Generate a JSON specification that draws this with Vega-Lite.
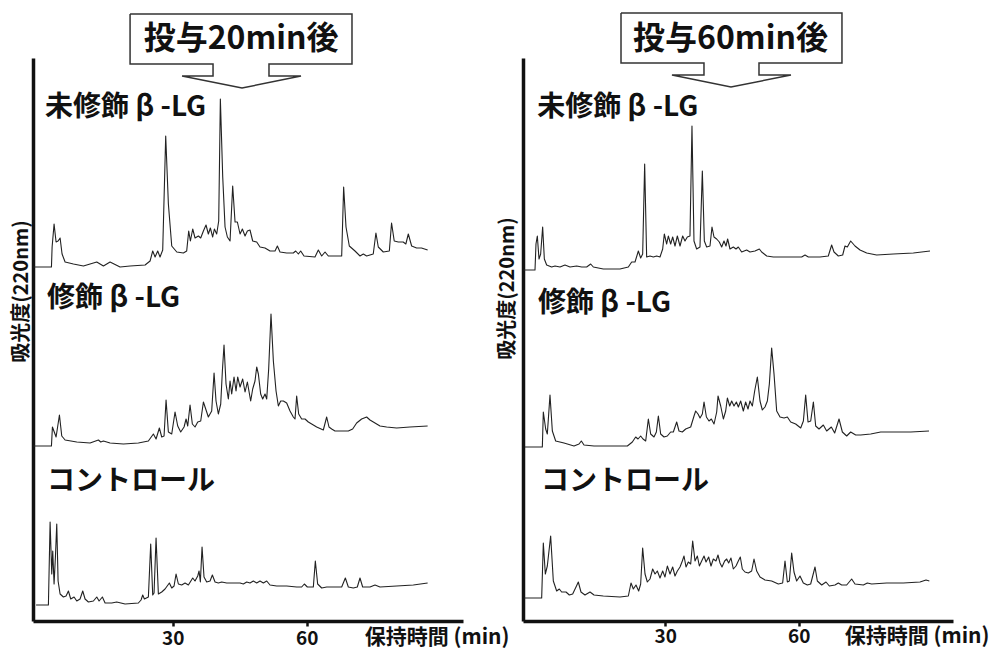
{
  "$schema": "https://vega.github.io/schema/vega-lite/v6.json",
  "background": "white",
  "padding": {"left": 11, "top": 10, "right": 0, "bottom": 0},
  "bounds": "flush",
  "spacing": 60,
  "config": {"view": {"stroke": null}, "font": "Noto Sans CJK JP"},
  "datasets": {
    "trace20": [
      {"sample":"unmod","t":-1.2,"y":354},{"sample":"unmod","t":2.83,"y":354},{"sample":"unmod","t":2.98,"y":374},{"sample":"unmod","t":3.42,"y":397},{"sample":"unmod","t":3.87,"y":379},{"sample":"unmod","t":4.32,"y":380},{"sample":"unmod","t":4.77,"y":383},{"sample":"unmod","t":5.21,"y":367},{"sample":"unmod","t":5.89,"y":359},{"sample":"unmod","t":7.75,"y":357},{"sample":"unmod","t":9.99,"y":355},{"sample":"unmod","t":11.48,"y":357},{"sample":"unmod","t":12.98,"y":359},{"sample":"unmod","t":14.47,"y":355},{"sample":"unmod","t":15.96,"y":359},{"sample":"unmod","t":18.2,"y":354},{"sample":"unmod","t":20.44,"y":355},{"sample":"unmod","t":23.8,"y":356},{"sample":"unmod","t":24.92,"y":360},{"sample":"unmod","t":25.51,"y":370},{"sample":"unmod","t":26.04,"y":364},{"sample":"unmod","t":26.63,"y":370},{"sample":"unmod","t":27.15,"y":364},{"sample":"unmod","t":27.75,"y":371},{"sample":"unmod","t":28.42,"y":485},{"sample":"unmod","t":29.02,"y":417},{"sample":"unmod","t":29.77,"y":375},{"sample":"unmod","t":30.9,"y":369},{"sample":"unmod","t":32.38,"y":368},{"sample":"unmod","t":33.12,"y":370},{"sample":"unmod","t":33.57,"y":390},{"sample":"unmod","t":33.95,"y":380},{"sample":"unmod","t":34.47,"y":392},{"sample":"unmod","t":34.99,"y":383},{"sample":"unmod","t":35.74,"y":385},{"sample":"unmod","t":36.26,"y":383},{"sample":"unmod","t":36.86,"y":390},{"sample":"unmod","t":37.45,"y":396},{"sample":"unmod","t":37.97,"y":387},{"sample":"unmod","t":38.42,"y":393},{"sample":"unmod","t":38.94,"y":384},{"sample":"unmod","t":39.32,"y":392},{"sample":"unmod","t":39.84,"y":387},{"sample":"unmod","t":40.29,"y":400},{"sample":"unmod","t":40.66,"y":522},{"sample":"unmod","t":41.19,"y":444},{"sample":"unmod","t":41.71,"y":394},{"sample":"unmod","t":42.23,"y":384},{"sample":"unmod","t":42.83,"y":380},{"sample":"unmod","t":43.42,"y":435},{"sample":"unmod","t":43.95,"y":399},{"sample":"unmod","t":44.47,"y":399},{"sample":"unmod","t":45.07,"y":387},{"sample":"unmod","t":45.59,"y":392},{"sample":"unmod","t":46.19,"y":385},{"sample":"unmod","t":46.71,"y":390},{"sample":"unmod","t":47.3,"y":391},{"sample":"unmod","t":47.9,"y":380},{"sample":"unmod","t":48.8,"y":379},{"sample":"unmod","t":49.54,"y":374},{"sample":"unmod","t":50.66,"y":373},{"sample":"unmod","t":51.78,"y":370},{"sample":"unmod","t":52.9,"y":370},{"sample":"unmod","t":53.43,"y":375},{"sample":"unmod","t":54.02,"y":369},{"sample":"unmod","t":55.51,"y":368},{"sample":"unmod","t":57.0,"y":368},{"sample":"unmod","t":57.53,"y":370},{"sample":"unmod","t":58.13,"y":367},{"sample":"unmod","t":58.65,"y":370},{"sample":"unmod","t":59.39,"y":365},{"sample":"unmod","t":61.85,"y":364},{"sample":"unmod","t":62.6,"y":371},{"sample":"unmod","t":63.35,"y":365},{"sample":"unmod","t":64.1,"y":369},{"sample":"unmod","t":64.84,"y":365},{"sample":"unmod","t":67.83,"y":365},{"sample":"unmod","t":68.27,"y":434},{"sample":"unmod","t":68.8,"y":394},{"sample":"unmod","t":69.54,"y":375},{"sample":"unmod","t":70.81,"y":370},{"sample":"unmod","t":71.93,"y":365},{"sample":"unmod","t":72.68,"y":367},{"sample":"unmod","t":73.42,"y":365},{"sample":"unmod","t":74.9,"y":367},{"sample":"unmod","t":75.5,"y":388},{"sample":"unmod","t":76.03,"y":374},{"sample":"unmod","t":77.15,"y":369},{"sample":"unmod","t":78.5,"y":370},{"sample":"unmod","t":79.0,"y":398},{"sample":"unmod","t":79.6,"y":380},{"sample":"unmod","t":80.5,"y":379},{"sample":"unmod","t":81.6,"y":379},{"sample":"unmod","t":82.2,"y":377},{"sample":"unmod","t":82.75,"y":387},{"sample":"unmod","t":83.5,"y":375},{"sample":"unmod","t":84.6,"y":373},{"sample":"unmod","t":85.7,"y":373},{"sample":"unmod","t":87.08,"y":371},
      {"sample":"mod","t":-1.2,"y":175},{"sample":"mod","t":2.83,"y":175},{"sample":"mod","t":3.05,"y":194},{"sample":"mod","t":3.87,"y":184},{"sample":"mod","t":4.62,"y":206},{"sample":"mod","t":5.14,"y":185},{"sample":"mod","t":5.89,"y":181},{"sample":"mod","t":8.5,"y":179},{"sample":"mod","t":11.48,"y":178},{"sample":"mod","t":13.35,"y":181},{"sample":"mod","t":13.87,"y":179},{"sample":"mod","t":14.47,"y":180},{"sample":"mod","t":15.96,"y":178},{"sample":"mod","t":18.95,"y":177},{"sample":"mod","t":22.3,"y":178},{"sample":"mod","t":24.54,"y":180},{"sample":"mod","t":25.66,"y":187},{"sample":"mod","t":26.26,"y":182},{"sample":"mod","t":27.0,"y":193},{"sample":"mod","t":27.53,"y":184},{"sample":"mod","t":28.05,"y":185},{"sample":"mod","t":28.5,"y":221},{"sample":"mod","t":29.02,"y":189},{"sample":"mod","t":29.77,"y":187},{"sample":"mod","t":30.51,"y":209},{"sample":"mod","t":31.11,"y":195},{"sample":"mod","t":31.78,"y":189},{"sample":"mod","t":32.53,"y":194},{"sample":"mod","t":32.98,"y":202},{"sample":"mod","t":33.35,"y":195},{"sample":"mod","t":33.87,"y":216},{"sample":"mod","t":34.39,"y":197},{"sample":"mod","t":34.99,"y":194},{"sample":"mod","t":35.59,"y":199},{"sample":"mod","t":36.26,"y":200},{"sample":"mod","t":36.86,"y":219},{"sample":"mod","t":37.38,"y":212},{"sample":"mod","t":37.97,"y":204},{"sample":"mod","t":38.72,"y":210},{"sample":"mod","t":39.25,"y":248},{"sample":"mod","t":39.69,"y":220},{"sample":"mod","t":40.21,"y":207},{"sample":"mod","t":40.74,"y":217},{"sample":"mod","t":41.11,"y":250},{"sample":"mod","t":41.48,"y":276},{"sample":"mod","t":41.93,"y":237},{"sample":"mod","t":42.45,"y":222},{"sample":"mod","t":42.83,"y":240},{"sample":"mod","t":43.2,"y":227},{"sample":"mod","t":43.72,"y":244},{"sample":"mod","t":44.17,"y":230},{"sample":"mod","t":44.54,"y":244},{"sample":"mod","t":45.07,"y":234},{"sample":"mod","t":45.66,"y":242},{"sample":"mod","t":46.19,"y":229},{"sample":"mod","t":46.71,"y":239},{"sample":"mod","t":47.45,"y":220},{"sample":"mod","t":47.9,"y":232},{"sample":"mod","t":48.42,"y":240},{"sample":"mod","t":48.8,"y":254},{"sample":"mod","t":49.17,"y":247},{"sample":"mod","t":49.69,"y":227},{"sample":"mod","t":50.14,"y":222},{"sample":"mod","t":50.66,"y":227},{"sample":"mod","t":51.04,"y":222},{"sample":"mod","t":51.48,"y":252},{"sample":"mod","t":52.0,"y":307},{"sample":"mod","t":52.53,"y":260},{"sample":"mod","t":53.13,"y":230},{"sample":"mod","t":53.65,"y":215},{"sample":"mod","t":54.17,"y":220},{"sample":"mod","t":54.77,"y":220},{"sample":"mod","t":55.51,"y":218},{"sample":"mod","t":56.26,"y":210},{"sample":"mod","t":57.0,"y":204},{"sample":"mod","t":57.38,"y":202},{"sample":"mod","t":57.75,"y":225},{"sample":"mod","t":58.2,"y":207},{"sample":"mod","t":58.87,"y":202},{"sample":"mod","t":59.62,"y":202},{"sample":"mod","t":60.36,"y":199},{"sample":"mod","t":61.11,"y":197},{"sample":"mod","t":62.23,"y":194},{"sample":"mod","t":63.72,"y":191},{"sample":"mod","t":64.47,"y":204},{"sample":"mod","t":64.99,"y":194},{"sample":"mod","t":65.59,"y":192},{"sample":"mod","t":66.33,"y":190},{"sample":"mod","t":67.45,"y":190},{"sample":"mod","t":69.32,"y":190},{"sample":"mod","t":70.29,"y":192},{"sample":"mod","t":71.18,"y":198},{"sample":"mod","t":72.3,"y":202},{"sample":"mod","t":73.42,"y":204},{"sample":"mod","t":74.17,"y":201},{"sample":"mod","t":75.29,"y":198},{"sample":"mod","t":76.41,"y":195},{"sample":"mod","t":77.9,"y":194},{"sample":"mod","t":80.14,"y":193},{"sample":"mod","t":83.12,"y":194},{"sample":"mod","t":87.08,"y":195},
      {"sample":"ctrl","t":-0.61,"y":16},{"sample":"ctrl","t":2.15,"y":16},{"sample":"ctrl","t":2.53,"y":99},{"sample":"ctrl","t":2.9,"y":47},{"sample":"ctrl","t":3.12,"y":70},{"sample":"ctrl","t":3.42,"y":37},{"sample":"ctrl","t":3.72,"y":64},{"sample":"ctrl","t":4.02,"y":97},{"sample":"ctrl","t":4.32,"y":40},{"sample":"ctrl","t":4.77,"y":27},{"sample":"ctrl","t":5.51,"y":24},{"sample":"ctrl","t":6.11,"y":25},{"sample":"ctrl","t":6.63,"y":30},{"sample":"ctrl","t":7.15,"y":22},{"sample":"ctrl","t":7.9,"y":24},{"sample":"ctrl","t":8.5,"y":20},{"sample":"ctrl","t":9.24,"y":22},{"sample":"ctrl","t":9.84,"y":30},{"sample":"ctrl","t":10.36,"y":22},{"sample":"ctrl","t":11.11,"y":19},{"sample":"ctrl","t":12.23,"y":20},{"sample":"ctrl","t":12.98,"y":24},{"sample":"ctrl","t":13.5,"y":20},{"sample":"ctrl","t":14.24,"y":24},{"sample":"ctrl","t":14.84,"y":18},{"sample":"ctrl","t":16.33,"y":18},{"sample":"ctrl","t":17.45,"y":19},{"sample":"ctrl","t":19.32,"y":17},{"sample":"ctrl","t":22.3,"y":18},{"sample":"ctrl","t":22.9,"y":21},{"sample":"ctrl","t":23.27,"y":26},{"sample":"ctrl","t":23.65,"y":22},{"sample":"ctrl","t":24.54,"y":24},{"sample":"ctrl","t":25.06,"y":77},{"sample":"ctrl","t":25.51,"y":26},{"sample":"ctrl","t":25.81,"y":28},{"sample":"ctrl","t":26.26,"y":83},{"sample":"ctrl","t":26.78,"y":27},{"sample":"ctrl","t":27.53,"y":29},{"sample":"ctrl","t":28.27,"y":32},{"sample":"ctrl","t":29.24,"y":38},{"sample":"ctrl","t":29.77,"y":33},{"sample":"ctrl","t":30.29,"y":35},{"sample":"ctrl","t":30.74,"y":47},{"sample":"ctrl","t":31.26,"y":37},{"sample":"ctrl","t":32.0,"y":36},{"sample":"ctrl","t":32.75,"y":38},{"sample":"ctrl","t":33.5,"y":36},{"sample":"ctrl","t":34.47,"y":43},{"sample":"ctrl","t":34.99,"y":40},{"sample":"ctrl","t":35.59,"y":45},{"sample":"ctrl","t":35.89,"y":50},{"sample":"ctrl","t":36.18,"y":39},{"sample":"ctrl","t":36.56,"y":74},{"sample":"ctrl","t":37.0,"y":44},{"sample":"ctrl","t":37.6,"y":39},{"sample":"ctrl","t":38.35,"y":40},{"sample":"ctrl","t":38.87,"y":46},{"sample":"ctrl","t":39.47,"y":39},{"sample":"ctrl","t":40.21,"y":38},{"sample":"ctrl","t":40.96,"y":39},{"sample":"ctrl","t":42.08,"y":38},{"sample":"ctrl","t":43.57,"y":38},{"sample":"ctrl","t":45.07,"y":38},{"sample":"ctrl","t":45.81,"y":37},{"sample":"ctrl","t":46.56,"y":39},{"sample":"ctrl","t":47.3,"y":38},{"sample":"ctrl","t":48.05,"y":40},{"sample":"ctrl","t":48.8,"y":38},{"sample":"ctrl","t":49.54,"y":40},{"sample":"ctrl","t":50.29,"y":38},{"sample":"ctrl","t":51.04,"y":40},{"sample":"ctrl","t":51.78,"y":36},{"sample":"ctrl","t":53.27,"y":35},{"sample":"ctrl","t":55.51,"y":35},{"sample":"ctrl","t":57.75,"y":34},{"sample":"ctrl","t":58.87,"y":34},{"sample":"ctrl","t":59.47,"y":37},{"sample":"ctrl","t":60.14,"y":34},{"sample":"ctrl","t":61.48,"y":34},{"sample":"ctrl","t":61.93,"y":60},{"sample":"ctrl","t":62.45,"y":37},{"sample":"ctrl","t":63.35,"y":33},{"sample":"ctrl","t":64.47,"y":34},{"sample":"ctrl","t":67.83,"y":34},{"sample":"ctrl","t":68.65,"y":43},{"sample":"ctrl","t":69.32,"y":34},{"sample":"ctrl","t":70.44,"y":33},{"sample":"ctrl","t":71.33,"y":34},{"sample":"ctrl","t":71.93,"y":43},{"sample":"ctrl","t":72.53,"y":34},{"sample":"ctrl","t":74.17,"y":34},{"sample":"ctrl","t":75.29,"y":36},{"sample":"ctrl","t":76.41,"y":34},{"sample":"ctrl","t":80.14,"y":35},{"sample":"ctrl","t":83.87,"y":36},{"sample":"ctrl","t":87.08,"y":38}
    ],
    "trace60": [
      {"sample":"unmod","t":-1.93,"y":351},{"sample":"unmod","t":0.7,"y":351},{"sample":"unmod","t":0.92,"y":377},{"sample":"unmod","t":1.22,"y":385},{"sample":"unmod","t":1.6,"y":362},{"sample":"unmod","t":1.97,"y":367},{"sample":"unmod","t":2.42,"y":394},{"sample":"unmod","t":2.8,"y":362},{"sample":"unmod","t":3.32,"y":356},{"sample":"unmod","t":4.44,"y":354},{"sample":"unmod","t":5.2,"y":355},{"sample":"unmod","t":6.32,"y":354},{"sample":"unmod","t":7.44,"y":356},{"sample":"unmod","t":8.57,"y":354},{"sample":"unmod","t":10.07,"y":355},{"sample":"unmod","t":11.19,"y":354},{"sample":"unmod","t":12.32,"y":354},{"sample":"unmod","t":13.22,"y":357},{"sample":"unmod","t":13.82,"y":354},{"sample":"unmod","t":14.94,"y":353},{"sample":"unmod","t":16.07,"y":352},{"sample":"unmod","t":19.81,"y":352},{"sample":"unmod","t":21.69,"y":354},{"sample":"unmod","t":22.44,"y":359},{"sample":"unmod","t":23.19,"y":359},{"sample":"unmod","t":23.94,"y":370},{"sample":"unmod","t":24.46,"y":363},{"sample":"unmod","t":24.91,"y":367},{"sample":"unmod","t":25.36,"y":457},{"sample":"unmod","t":25.81,"y":364},{"sample":"unmod","t":26.56,"y":365},{"sample":"unmod","t":27.31,"y":364},{"sample":"unmod","t":28.06,"y":365},{"sample":"unmod","t":28.81,"y":364},{"sample":"unmod","t":29.41,"y":372},{"sample":"unmod","t":29.78,"y":387},{"sample":"unmod","t":30.31,"y":377},{"sample":"unmod","t":30.68,"y":385},{"sample":"unmod","t":31.21,"y":377},{"sample":"unmod","t":31.66,"y":384},{"sample":"unmod","t":32.18,"y":375},{"sample":"unmod","t":32.71,"y":385},{"sample":"unmod","t":33.31,"y":375},{"sample":"unmod","t":33.91,"y":385},{"sample":"unmod","t":34.43,"y":380},{"sample":"unmod","t":34.95,"y":384},{"sample":"unmod","t":35.55,"y":385},{"sample":"unmod","t":36.0,"y":495},{"sample":"unmod","t":36.45,"y":380},{"sample":"unmod","t":37.05,"y":372},{"sample":"unmod","t":37.8,"y":374},{"sample":"unmod","t":38.33,"y":450},{"sample":"unmod","t":38.78,"y":380},{"sample":"unmod","t":39.3,"y":374},{"sample":"unmod","t":40.05,"y":375},{"sample":"unmod","t":40.5,"y":394},{"sample":"unmod","t":40.95,"y":384},{"sample":"unmod","t":41.55,"y":382},{"sample":"unmod","t":42.15,"y":379},{"sample":"unmod","t":42.68,"y":374},{"sample":"unmod","t":43.2,"y":380},{"sample":"unmod","t":43.65,"y":375},{"sample":"unmod","t":44.02,"y":382},{"sample":"unmod","t":44.55,"y":372},{"sample":"unmod","t":45.3,"y":374},{"sample":"unmod","t":45.9,"y":372},{"sample":"unmod","t":46.42,"y":374},{"sample":"unmod","t":47.17,"y":369},{"sample":"unmod","t":48.3,"y":371},{"sample":"unmod","t":49.05,"y":369},{"sample":"unmod","t":50.17,"y":370},{"sample":"unmod","t":51.15,"y":372},{"sample":"unmod","t":51.67,"y":369},{"sample":"unmod","t":52.8,"y":365},{"sample":"unmod","t":54.3,"y":364},{"sample":"unmod","t":56.55,"y":364},{"sample":"unmod","t":58.79,"y":364},{"sample":"unmod","t":60.67,"y":364},{"sample":"unmod","t":61.42,"y":366},{"sample":"unmod","t":62.17,"y":364},{"sample":"unmod","t":64.79,"y":364},{"sample":"unmod","t":66.66,"y":365},{"sample":"unmod","t":67.41,"y":376},{"sample":"unmod","t":67.94,"y":369},{"sample":"unmod","t":68.91,"y":365},{"sample":"unmod","t":69.89,"y":366},{"sample":"unmod","t":70.41,"y":375},{"sample":"unmod","t":70.94,"y":374},{"sample":"unmod","t":71.69,"y":380},{"sample":"unmod","t":72.66,"y":375},{"sample":"unmod","t":73.79,"y":371},{"sample":"unmod","t":75.29,"y":368},{"sample":"unmod","t":77.53,"y":366},{"sample":"unmod","t":81.28,"y":367},{"sample":"unmod","t":85.78,"y":368},{"sample":"unmod","t":89.53,"y":370},
      {"sample":"mod","t":-1.62,"y":174},{"sample":"mod","t":2.35,"y":174},{"sample":"mod","t":2.57,"y":209},{"sample":"mod","t":3.1,"y":192},{"sample":"mod","t":3.47,"y":187},{"sample":"mod","t":4.07,"y":226},{"sample":"mod","t":4.6,"y":190},{"sample":"mod","t":5.35,"y":180},{"sample":"mod","t":7.22,"y":178},{"sample":"mod","t":9.47,"y":175},{"sample":"mod","t":10.6,"y":177},{"sample":"mod","t":11.12,"y":180},{"sample":"mod","t":11.72,"y":176},{"sample":"mod","t":13.97,"y":175},{"sample":"mod","t":17.72,"y":175},{"sample":"mod","t":21.47,"y":175},{"sample":"mod","t":22.59,"y":179},{"sample":"mod","t":23.34,"y":184},{"sample":"mod","t":23.86,"y":182},{"sample":"mod","t":24.46,"y":185},{"sample":"mod","t":24.99,"y":182},{"sample":"mod","t":25.59,"y":180},{"sample":"mod","t":26.19,"y":202},{"sample":"mod","t":26.71,"y":187},{"sample":"mod","t":27.46,"y":184},{"sample":"mod","t":27.99,"y":189},{"sample":"mod","t":28.44,"y":205},{"sample":"mod","t":28.96,"y":187},{"sample":"mod","t":29.71,"y":184},{"sample":"mod","t":30.46,"y":185},{"sample":"mod","t":31.21,"y":189},{"sample":"mod","t":31.81,"y":189},{"sample":"mod","t":32.56,"y":199},{"sample":"mod","t":33.08,"y":190},{"sample":"mod","t":33.83,"y":189},{"sample":"mod","t":34.58,"y":192},{"sample":"mod","t":35.71,"y":194},{"sample":"mod","t":36.46,"y":205},{"sample":"mod","t":36.83,"y":210},{"sample":"mod","t":37.36,"y":207},{"sample":"mod","t":37.81,"y":203},{"sample":"mod","t":38.33,"y":207},{"sample":"mod","t":38.71,"y":219},{"sample":"mod","t":39.24,"y":204},{"sample":"mod","t":39.83,"y":200},{"sample":"mod","t":40.36,"y":202},{"sample":"mod","t":40.96,"y":197},{"sample":"mod","t":41.56,"y":209},{"sample":"mod","t":41.86,"y":225},{"sample":"mod","t":42.46,"y":215},{"sample":"mod","t":43.06,"y":202},{"sample":"mod","t":43.58,"y":210},{"sample":"mod","t":43.96,"y":223},{"sample":"mod","t":44.48,"y":215},{"sample":"mod","t":44.93,"y":220},{"sample":"mod","t":45.45,"y":215},{"sample":"mod","t":45.98,"y":219},{"sample":"mod","t":46.43,"y":214},{"sample":"mod","t":46.95,"y":220},{"sample":"mod","t":47.55,"y":210},{"sample":"mod","t":48.07,"y":219},{"sample":"mod","t":48.6,"y":212},{"sample":"mod","t":49.05,"y":220},{"sample":"mod","t":49.58,"y":215},{"sample":"mod","t":50.1,"y":230},{"sample":"mod","t":50.7,"y":244},{"sample":"mod","t":51.3,"y":220},{"sample":"mod","t":51.82,"y":211},{"sample":"mod","t":52.42,"y":214},{"sample":"mod","t":52.95,"y":220},{"sample":"mod","t":53.4,"y":237},{"sample":"mod","t":53.92,"y":273},{"sample":"mod","t":54.45,"y":247},{"sample":"mod","t":55.05,"y":210},{"sample":"mod","t":55.8,"y":204},{"sample":"mod","t":56.7,"y":203},{"sample":"mod","t":57.45,"y":204},{"sample":"mod","t":58.2,"y":199},{"sample":"mod","t":59.32,"y":197},{"sample":"mod","t":60.45,"y":193},{"sample":"mod","t":61.05,"y":200},{"sample":"mod","t":61.57,"y":226},{"sample":"mod","t":62.1,"y":199},{"sample":"mod","t":62.7,"y":200},{"sample":"mod","t":63.3,"y":219},{"sample":"mod","t":63.82,"y":195},{"sample":"mod","t":64.57,"y":192},{"sample":"mod","t":65.54,"y":196},{"sample":"mod","t":66.29,"y":190},{"sample":"mod","t":67.34,"y":194},{"sample":"mod","t":68.09,"y":188},{"sample":"mod","t":69.07,"y":202},{"sample":"mod","t":69.82,"y":189},{"sample":"mod","t":70.79,"y":185},{"sample":"mod","t":71.69,"y":189},{"sample":"mod","t":72.82,"y":186},{"sample":"mod","t":73.94,"y":186},{"sample":"mod","t":76.19,"y":187},{"sample":"mod","t":78.44,"y":189},{"sample":"mod","t":81.44,"y":189},{"sample":"mod","t":85.2,"y":189},{"sample":"mod","t":89.3,"y":190},
      {"sample":"ctrl","t":-1.78,"y":23},{"sample":"ctrl","t":2.2,"y":23},{"sample":"ctrl","t":2.57,"y":78},{"sample":"ctrl","t":3.02,"y":47},{"sample":"ctrl","t":3.47,"y":55},{"sample":"ctrl","t":4.22,"y":85},{"sample":"ctrl","t":4.82,"y":40},{"sample":"ctrl","t":5.57,"y":30},{"sample":"ctrl","t":6.17,"y":32},{"sample":"ctrl","t":6.69,"y":29},{"sample":"ctrl","t":7.67,"y":29},{"sample":"ctrl","t":8.42,"y":26},{"sample":"ctrl","t":9.17,"y":27},{"sample":"ctrl","t":9.92,"y":34},{"sample":"ctrl","t":10.44,"y":39},{"sample":"ctrl","t":11.04,"y":29},{"sample":"ctrl","t":11.94,"y":26},{"sample":"ctrl","t":13.07,"y":29},{"sample":"ctrl","t":13.97,"y":26},{"sample":"ctrl","t":16.06,"y":25},{"sample":"ctrl","t":19.81,"y":24},{"sample":"ctrl","t":21.69,"y":25},{"sample":"ctrl","t":22.29,"y":38},{"sample":"ctrl","t":22.81,"y":32},{"sample":"ctrl","t":23.41,"y":36},{"sample":"ctrl","t":24.01,"y":30},{"sample":"ctrl","t":24.46,"y":37},{"sample":"ctrl","t":24.91,"y":73},{"sample":"ctrl","t":25.44,"y":47},{"sample":"ctrl","t":25.96,"y":39},{"sample":"ctrl","t":26.56,"y":42},{"sample":"ctrl","t":27.16,"y":52},{"sample":"ctrl","t":27.69,"y":47},{"sample":"ctrl","t":28.21,"y":50},{"sample":"ctrl","t":28.81,"y":43},{"sample":"ctrl","t":29.41,"y":50},{"sample":"ctrl","t":29.93,"y":44},{"sample":"ctrl","t":30.46,"y":55},{"sample":"ctrl","t":31.06,"y":47},{"sample":"ctrl","t":31.66,"y":54},{"sample":"ctrl","t":32.18,"y":45},{"sample":"ctrl","t":32.71,"y":50},{"sample":"ctrl","t":33.31,"y":54},{"sample":"ctrl","t":33.83,"y":60},{"sample":"ctrl","t":34.21,"y":65},{"sample":"ctrl","t":34.66,"y":54},{"sample":"ctrl","t":35.18,"y":59},{"sample":"ctrl","t":35.71,"y":57},{"sample":"ctrl","t":36.16,"y":80},{"sample":"ctrl","t":36.68,"y":60},{"sample":"ctrl","t":37.21,"y":65},{"sample":"ctrl","t":37.66,"y":55},{"sample":"ctrl","t":38.18,"y":60},{"sample":"ctrl","t":38.71,"y":65},{"sample":"ctrl","t":39.16,"y":59},{"sample":"ctrl","t":39.75,"y":64},{"sample":"ctrl","t":40.28,"y":55},{"sample":"ctrl","t":40.8,"y":62},{"sample":"ctrl","t":41.4,"y":60},{"sample":"ctrl","t":41.85,"y":66},{"sample":"ctrl","t":42.3,"y":58},{"sample":"ctrl","t":42.75,"y":54},{"sample":"ctrl","t":43.35,"y":60},{"sample":"ctrl","t":43.8,"y":62},{"sample":"ctrl","t":44.25,"y":58},{"sample":"ctrl","t":44.77,"y":63},{"sample":"ctrl","t":45.3,"y":52},{"sample":"ctrl","t":45.9,"y":55},{"sample":"ctrl","t":46.42,"y":60},{"sample":"ctrl","t":46.87,"y":64},{"sample":"ctrl","t":47.32,"y":52},{"sample":"ctrl","t":47.92,"y":49},{"sample":"ctrl","t":48.67,"y":48},{"sample":"ctrl","t":49.42,"y":50},{"sample":"ctrl","t":49.95,"y":62},{"sample":"ctrl","t":50.55,"y":50},{"sample":"ctrl","t":51.3,"y":44},{"sample":"ctrl","t":52.42,"y":41},{"sample":"ctrl","t":53.92,"y":40},{"sample":"ctrl","t":55.42,"y":37},{"sample":"ctrl","t":56.39,"y":38},{"sample":"ctrl","t":56.92,"y":60},{"sample":"ctrl","t":57.45,"y":39},{"sample":"ctrl","t":57.9,"y":40},{"sample":"ctrl","t":58.42,"y":68},{"sample":"ctrl","t":58.94,"y":49},{"sample":"ctrl","t":59.54,"y":40},{"sample":"ctrl","t":60.29,"y":45},{"sample":"ctrl","t":61.04,"y":38},{"sample":"ctrl","t":61.94,"y":36},{"sample":"ctrl","t":62.69,"y":37},{"sample":"ctrl","t":63.67,"y":54},{"sample":"ctrl","t":64.19,"y":40},{"sample":"ctrl","t":65.17,"y":36},{"sample":"ctrl","t":66.14,"y":39},{"sample":"ctrl","t":66.89,"y":35},{"sample":"ctrl","t":68.16,"y":36},{"sample":"ctrl","t":68.91,"y":38},{"sample":"ctrl","t":69.66,"y":36},{"sample":"ctrl","t":70.79,"y":36},{"sample":"ctrl","t":71.91,"y":42},{"sample":"ctrl","t":72.66,"y":37},{"sample":"ctrl","t":74.54,"y":36},{"sample":"ctrl","t":75.43,"y":38},{"sample":"ctrl","t":76.41,"y":37},{"sample":"ctrl","t":79.78,"y":38},{"sample":"ctrl","t":83.53,"y":38},{"sample":"ctrl","t":87.28,"y":39},{"sample":"ctrl","t":88.63,"y":41},{"sample":"ctrl","t":89.38,"y":40}
    ],
    "outline20": [
      {"i":1,"t":20.44,"y":607},{"i":2,"t":70.14,"y":607},{"i":3,"t":70.14,"y":557},{"i":4,"t":51.55,"y":557},{"i":5,"t":51.55,"y":545},{"i":6,"t":58.72,"y":545},{"i":7,"t":45.51,"y":533},{"i":8,"t":32.08,"y":545},{"i":9,"t":39.02,"y":545},{"i":10,"t":39.02,"y":557},{"i":11,"t":20.44,"y":557},{"i":12,"t":20.44,"y":607}
    ],
    "outline60": [
      {"i":1,"t":20.04,"y":608},{"i":2,"t":69.73,"y":608},{"i":3,"t":69.73,"y":558},{"i":4,"t":51.07,"y":558},{"i":5,"t":51.07,"y":546},{"i":6,"t":58.26,"y":546},{"i":7,"t":44.77,"y":534},{"i":8,"t":31.5,"y":546},{"i":9,"t":38.7,"y":546},{"i":10,"t":38.7,"y":558},{"i":11,"t":20.04,"y":558},{"i":12,"t":20.04,"y":608}
    ],
    "label20": [
      {"label":"未修飾 β -LG","t":1.41,"y":513},{"label":"修飾 β -LG","t":1.86,"y":322},{"label":"コントロール","t":1.86,"y":139}
    ],
    "label60": [
      {"label":"未修飾 β -LG","t":1.2,"y":513},{"label":"修飾 β -LG","t":1.37,"y":317},{"label":"コントロール","t":2.05,"y":139}
    ],
    "head20": [{"label":"投与20min後","t":45.3,"y":582}],
    "head60": [{"label":"投与60min後","t":44.66,"y":582}]
  },
  "hconcat": [
    {
      "width": 430,
      "height": 563,
      "layer": [
        {
          "data": {"name": "trace20"},
          "mark": {"type": "line", "stroke": "#222", "strokeWidth": 1.1, "strokeJoin": "round"},
          "encoding": {
            "x": {"field": "t", "type": "quantitative", "scale": {"domain": [-1.3, 95], "nice": false, "zero": false},
              "axis": {"values": [30, 60], "grid": false, "title": "保持時間 (min)", "titleFont": "Noto Sans CJK JP", "titleFontSize": 21, "titleFontWeight": "bold", "titleColor": "#111", "titleX": 476, "titleY": 16, "titleAlign": "right", "titleBaseline": "middle", "titleAnchor": null,
                "labelFont": "Noto Sans CJK JP", "labelFontSize": 19, "labelFontWeight": "bold", "labelColor": "#111", "labelPadding": 3, "labelFlush": false,
                "tickSize": 5, "tickWidth": 2.5, "tickColor": "#111", "domainColor": "#111", "domainWidth": 3.5}},
            "y": {"field": "y", "type": "quantitative", "scale": {"domain": [0, 563], "nice": false, "zero": false},
              "axis": {"ticks": false, "labels": false, "grid": false, "domainColor": "#111", "domainWidth": 3.5, "title": "吸光度(220nm)", "titleFont": "Noto Sans CJK JP", "titleFontSize": 20, "titleFontWeight": "bold", "titleColor": "#111", "titleX": -12, "titleY": 233, "titleAngle": -90, "titleAlign": "center", "titleBaseline": "middle"}},
            "detail": {"field": "sample"}
          }
        },
        {
          "data": {"name": "outline20"},
          "mark": {"type": "line", "stroke": "#333", "strokeWidth": 1.5},
          "encoding": {"x": {"field": "t", "type": "quantitative"}, "y": {"field": "y", "type": "quantitative"}, "order": {"field": "i"}}
        },
        {
          "data": {"name": "label20"},
          "mark": {"type": "text", "align": "left", "baseline": "middle", "fontSize": 28, "fontWeight": "bold", "color": "#111", "font": "Noto Sans CJK JP"},
          "encoding": {"x": {"field": "t", "type": "quantitative"}, "y": {"field": "y", "type": "quantitative"}, "text": {"field": "label"}}
        },
        {
          "data": {"name": "head20"},
          "mark": {"type": "text", "align": "center", "baseline": "middle", "fontSize": 32, "fontWeight": "bold", "color": "#111", "font": "Noto Sans CJK JP"},
          "encoding": {"x": {"field": "t", "type": "quantitative"}, "y": {"field": "y", "type": "quantitative"}, "text": {"field": "label"}}
        }
      ]
    },
    {
      "width": 430,
      "height": 563,
      "layer": [
        {
          "data": {"name": "trace60"},
          "mark": {"type": "line", "stroke": "#222", "strokeWidth": 1.1, "strokeJoin": "round"},
          "encoding": {
            "x": {"field": "t", "type": "quantitative", "scale": {"domain": [-2.0, 94.7], "nice": false, "zero": false},
              "axis": {"values": [30, 60], "grid": false, "title": "保持時間 (min)", "titleFont": "Noto Sans CJK JP", "titleFontSize": 21, "titleFontWeight": "bold", "titleColor": "#111", "titleX": 466, "titleY": 15, "titleAlign": "right", "titleBaseline": "middle", "titleAnchor": null,
                "labelFont": "Noto Sans CJK JP", "labelFontSize": 19, "labelFontWeight": "bold", "labelColor": "#111", "labelPadding": 1, "labelFlush": false,
                "tickSize": 5, "tickWidth": 2.5, "tickColor": "#111", "domainColor": "#111", "domainWidth": 3.5}},
            "y": {"field": "y", "type": "quantitative", "scale": {"domain": [0, 563], "nice": false, "zero": false},
              "axis": {"ticks": false, "labels": false, "grid": false, "domainColor": "#111", "domainWidth": 3.5, "title": "吸光度(220nm)", "titleFont": "Noto Sans CJK JP", "titleFontSize": 20, "titleFontWeight": "bold", "titleColor": "#111", "titleX": -16, "titleY": 230, "titleAngle": -90, "titleAlign": "center", "titleBaseline": "middle"}},
            "detail": {"field": "sample"}
          }
        },
        {
          "data": {"name": "outline60"},
          "mark": {"type": "line", "stroke": "#333", "strokeWidth": 1.5},
          "encoding": {"x": {"field": "t", "type": "quantitative"}, "y": {"field": "y", "type": "quantitative"}, "order": {"field": "i"}}
        },
        {
          "data": {"name": "label60"},
          "mark": {"type": "text", "align": "left", "baseline": "middle", "fontSize": 28, "fontWeight": "bold", "color": "#111", "font": "Noto Sans CJK JP"},
          "encoding": {"x": {"field": "t", "type": "quantitative"}, "y": {"field": "y", "type": "quantitative"}, "text": {"field": "label"}}
        },
        {
          "data": {"name": "head60"},
          "mark": {"type": "text", "align": "center", "baseline": "middle", "fontSize": 32, "fontWeight": "bold", "color": "#111", "font": "Noto Sans CJK JP"},
          "encoding": {"x": {"field": "t", "type": "quantitative"}, "y": {"field": "y", "type": "quantitative"}, "text": {"field": "label"}}
        }
      ]
    }
  ]
}
